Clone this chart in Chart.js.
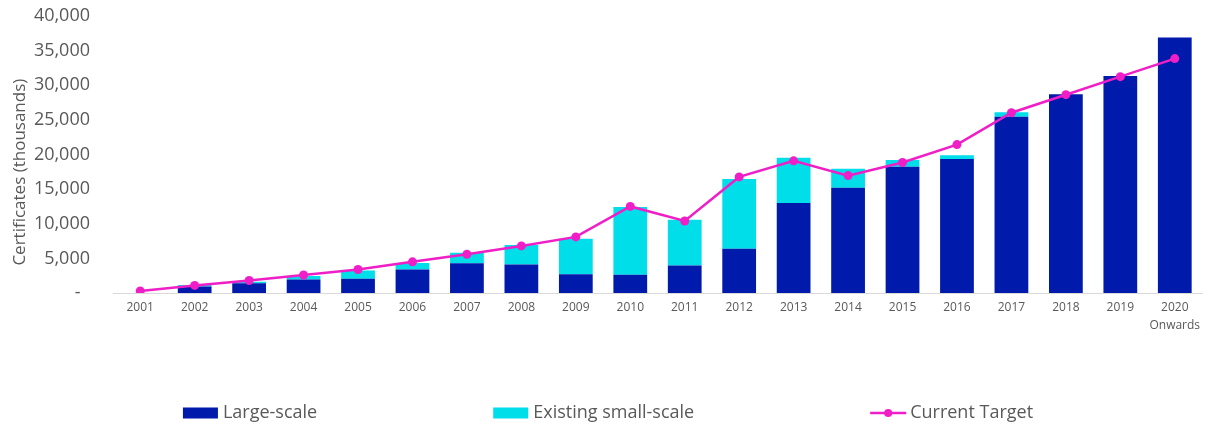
<!DOCTYPE html>
<html>
<head>
<meta charset="utf-8">
<title>Certificates</title>
<script src="https://cdn.jsdelivr.net/npm/chart.js@4/dist/chart.umd.min.js"></script>
<style>
  html, body { margin: 0; padding: 0; background: #fff; }
  #wrap { width: 1208px; height: 426px; }
</style>
</head>
<body>
<div id="wrap"><canvas id="certChart"></canvas></div>
<script>
// Years, with the last bar covering 2020 onwards
const years = ['2001', '2002', '2003', '2004', '2005', '2006', '2007', '2008', '2009', '2010',
  '2011', '2012', '2013', '2014', '2015', '2016', '2017', '2018', '2019', ['2020', 'Onwards']];

// Certificates (thousands)
const largeScale = [0, 950, 1390, 1960, 2060, 3400, 4280, 4130, 2690, 2650,
  3960, 6400, 13000, 15200, 18230, 19350, 25460, 28690, 31330, 36900];
const smallScale = [0, 200, 240, 490, 1200, 930, 1540, 2800, 5150, 9770,
  6600, 10050, 6540, 2750, 970, 530, 630, 0, 0, 0];
const currentTarget = [300, 1100, 1800, 2600, 3400, 4500, 5600, 6800, 8100, 12500,
  10400, 16763, 19088, 16950, 18850, 21431, 26031, 28637, 31244, 33850];

const yTicks = [0, 5000, 10000, 15000, 20000, 25000, 30000, 35000, 40000];

const textGrey = '#595959';
const darkBlue = '#001AAC';
const cyan = '#00DEEA';
const magenta = '#F01EC6';

// Legend row drawn underneath the axis, items spread out evenly
const legendRow = {
  id: 'legendRow',
  afterDraw(chart) {
    const ctx = chart.ctx;
    const y = chart.height - 13;
    const gap = 176;
    ctx.save();
    ctx.font = '18px "Open Sans"';
    ctx.textBaseline = 'middle';
    const items = chart.data.datasets.map(ds => ({ ds, w: 40 + ctx.measureText(ds.label).width }));
    const total = items.reduce((s, it) => s + it.w, 0) + gap * (items.length - 1);
    let x = (chart.width - total) / 2 + 4;
    items.forEach(({ ds, w }) => {
      if (ds.type === 'line') {
        ctx.strokeStyle = ds.borderColor;
        ctx.lineWidth = 2.5;
        ctx.beginPath();
        ctx.moveTo(x, y);
        ctx.lineTo(x + 36, y);
        ctx.stroke();
        ctx.fillStyle = ds.borderColor;
        ctx.beginPath();
        ctx.arc(x + 18, y, 4, 0, Math.PI * 2);
        ctx.fill();
      } else {
        ctx.fillStyle = ds.backgroundColor;
        ctx.fillRect(x, y - 5.5, 35, 11);
      }
      ctx.fillStyle = textGrey;
      ctx.fillText(ds.label, x + 40, y);
      x += w + gap;
    });
    ctx.restore();
  }
};

window.addEventListener('DOMContentLoaded', () => {
  const ctx = document.getElementById('certChart');
  new Chart(ctx, {
    type: 'bar',
    data: {
      labels: years,
      datasets: [{
        label: 'Large-scale',
        data: largeScale,
        backgroundColor: darkBlue,
        stack: 'certs',
        order: 1,
        categoryPercentage: 1,
        barPercentage: 0.62,
      }, {
        label: 'Existing small-scale',
        data: smallScale,
        backgroundColor: cyan,
        stack: 'certs',
        order: 1,
        categoryPercentage: 1,
        barPercentage: 0.62,
      }, {
        type: 'line',
        label: 'Current Target',
        data: currentTarget,
        borderColor: magenta,
        backgroundColor: magenta,
        borderWidth: 2.5,
        pointRadius: 4.5,
        pointBackgroundColor: magenta,
        pointBorderWidth: 0,
        tension: 0,
        order: 0,
      }]
    },
    options: {
      responsive: true,
      maintainAspectRatio: false,
      animation: false,
      layout: { padding: { top: 16, right: 6, bottom: 85, left: 0 } },
      plugins: {
        legend: { display: false },
        tooltip: { enabled: false },
      },
      scales: {
        x: {
          stacked: true,
          grid: { display: false, drawTicks: false },
          border: { display: true, color: '#D9D9D9', width: 1 },
          ticks: {
            color: textGrey,
            font: { family: 'Open Sans', size: 12, lineHeight: 1.5 },
            padding: 6,
            maxRotation: 0,
            autoSkip: false,
          },
        },
        y: {
          stacked: true,
          min: 0,
          max: 40000,
          afterBuildTicks: (scale) => { scale.ticks = yTicks.map(v => ({ value: v })); },
          afterFit: (scale) => {
            scale.width = 113;
            scale.paddingTop = 0;
          },
          grid: { display: false, drawTicks: false },
          border: { display: false },
          ticks: {
            color: textGrey,
            font: { family: 'Open Sans', size: 18 },
            padding: 23,
            callback: (v) => v === 0 ? '-  ' : v.toLocaleString('en-US'),
          },
          title: {
            display: true,
            // trailing spaces push the words a little below the axis middle
            text: 'Certificates (thousands)        ',
            color: textGrey,
            font: { family: 'Open Sans', size: 17 },
            padding: { top: 10, bottom: 4 },
          },
        },
      },
    },
    plugins: [legendRow],
  });
});
</script>
</body>
</html>
